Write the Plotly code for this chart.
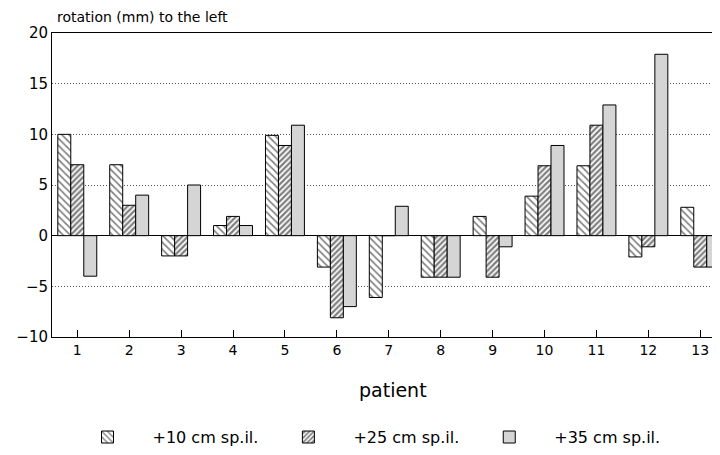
import plotly.graph_objects as go

patients = list(range(1, 14))
tick_labels = [str(p) for p in patients]
series_names = ["+10 cm sp.il.", "+25 cm sp.il.", "+35 cm sp.il."]
s10 = [10, 7, -2, 1, 9.9, -3.1, -6.1, -4.1, 1.9, 3.9, 6.9, -2.1, 2.8]
s25 = [7, 3, -2, 1.9, 8.9, -8.1, 0, -4.1, -4.1, 6.9, 10.9, -1.1, -3.1]
s35 = [-4, 4, 5, 1, 10.9, -7.0, 2.9, -4.1, -1.1, 8.9, 12.9, 17.9, -3.1]

FONT = "DejaVu Sans"

patterns = [
    dict(shape="\\", fgcolor="black", bgcolor="white", size=5, solidity=0.33),
    dict(shape="/", fgcolor="black", bgcolor="white", size=4, solidity=0.55),
    dict(shape=".", fgcolor="#8a8a8a", bgcolor="#e6e6e6", size=2, solidity=0.4),
]

fig = go.Figure()
for name, vals, pat in zip(series_names, [s10, s25, s35], patterns):
    fig.add_trace(go.Bar(
        x=patients, y=vals, name=name,
        marker=dict(color="white", line=dict(color="black", width=1), pattern=pat),
    ))

# page body has an 8px margin, so the figure is 712x447 and offset by 8px
fig.update_layout(
    width=712, height=447,
    margin=dict(l=44, r=0, t=25, b=118, autoexpand=False),
    plot_bgcolor="white", paper_bgcolor="white",
    barmode="group", bargap=0.25, bargroupgap=0,
    font=dict(family=FONT, color="black", size=15),
    showlegend=True,
    legend=dict(orientation="h", xref="container", yref="container",
                x=0.5, xanchor="center", y=0.04, yanchor="middle",
                font=dict(size=16), itemwidth=80, traceorder="normal"),
)
fig.update_xaxes(
    range=[0.513, 13.38], tickvals=patients, ticktext=tick_labels,
    ticks="inside", ticklen=7, tickcolor="black",
    showline=True, linecolor="black", linewidth=1, mirror=True,
    showgrid=False, zeroline=False, tickfont=dict(size=14), automargin=False,
)
fig.update_yaxes(
    range=[-10, 20], dtick=5, tick0=0,
    showline=True, linecolor="black", linewidth=1,
    showgrid=True, gridcolor="#555555", griddash="1px,2px", gridwidth=1,
    zeroline=True, zerolinecolor="black", zerolinewidth=1,
    ticks="", tickfont=dict(size=15), automargin=False,
)
fig.add_annotation(text="rotation (mm) to the left", xref="paper", yref="paper",
                   x=0.005, y=1.02, xanchor="left", yanchor="bottom",
                   showarrow=False, font=dict(size=14))
fig.add_annotation(text="patient", xref="paper", yref="paper",
                   x=0.51, y=-0.174, xanchor="center", yanchor="middle",
                   showarrow=False, font=dict(size=19))

fig.write_html("out.html")
